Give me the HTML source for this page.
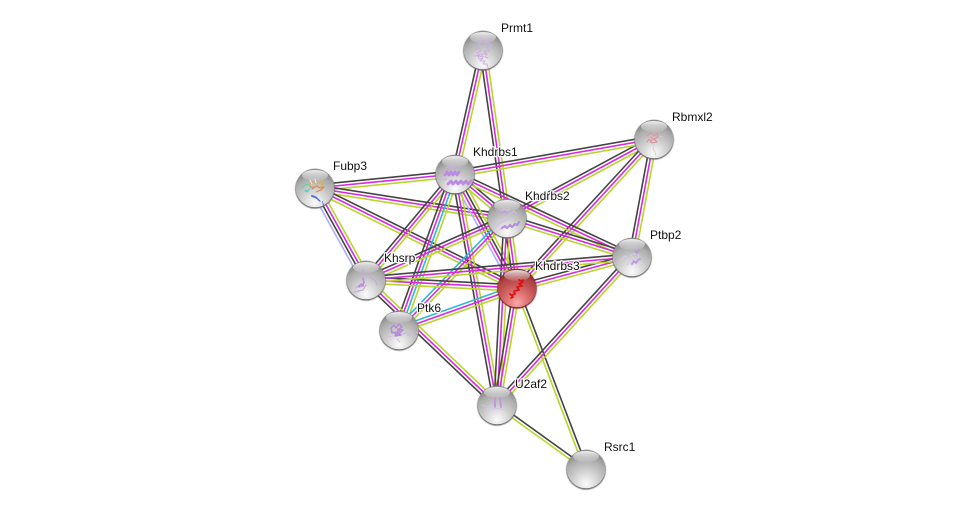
<!DOCTYPE html>
<html><head><meta charset="utf-8"><style>
html,body{margin:0;padding:0;background:#fff;width:976px;height:514px;overflow:hidden}
svg{display:block}
text{font-family:"Liberation Sans",sans-serif;font-size:12px;fill:#111;paint-order:stroke;stroke:#fff;stroke-width:2.5px;stroke-linejoin:round}
</style></head><body>
<svg xmlns="http://www.w3.org/2000/svg" width="976" height="514" viewBox="0 0 976 514">
<defs>
<radialGradient id="g" cx="50%" cy="88%" r="78%"><stop offset="0" stop-color="#fbfbfb"/><stop offset=".22" stop-color="#e6e6e6"/><stop offset=".52" stop-color="#c8c8c8"/><stop offset=".82" stop-color="#ababab"/><stop offset="1" stop-color="#8c8c8c"/></radialGradient>
<radialGradient id="r" cx="50%" cy="88%" r="78%"><stop offset="0" stop-color="#fba8a8"/><stop offset=".25" stop-color="#e88080"/><stop offset=".55" stop-color="#cc5c5c"/><stop offset=".85" stop-color="#b04242"/><stop offset="1" stop-color="#8a2c2c"/></radialGradient>
<linearGradient id="h" x1="0" y1="0" x2="0" y2="1"><stop offset="0" stop-color="#fff" stop-opacity=".85"/><stop offset="1" stop-color="#fff" stop-opacity=".08"/></linearGradient>
<filter id="b" x="-20%" y="-20%" width="140%" height="140%"><feGaussianBlur stdDeviation=".5"/></filter>
<filter id="p" x="-20%" y="-20%" width="140%" height="140%"><feGaussianBlur stdDeviation=".25"/></filter>
<g id="s"><circle cx="0" cy="0.8" r="19.8" fill="#666" filter="url(#b)"/><circle r="19.3" fill="url(#g)"/><ellipse cx="0" cy="-12.5" rx="13" ry="5.5" fill="url(#h)"/></g>
<g id="sr"><circle cx="0" cy="0.8" r="19.8" fill="#6a1e1e" filter="url(#b)"/><circle r="19.3" fill="url(#r)"/><ellipse cx="0" cy="-12.5" rx="13" ry="5.5" fill="url(#h)"/></g>
</defs>
<g id="edges"></g>
<g fill="none" stroke-linecap="round" stroke-linejoin="round">
<use href="#s" x="483" y="50"/>
<g filter="url(#p)">
<path transform="translate(483,50)" d="M-3-12l3 4 2-2 1 4 4-6-1 6 3 1-5 3 2 3-5 0 3 3-6 0 2 3-5-1 1 3 4-1-3 3 5 0-2 3 4 0 1 4M-8 0l4-2 2 3-4 2 3 2-5 1M-3-8l-2 3 3 1-3 2M1 2l3 2-2 3 3 1" stroke="#cfaee4" stroke-width="1"/>
</g>
<use href="#s" x="654" y="139"/>
<g filter="url(#p)">
<path transform="translate(654,139)" d="M-7-3l4-3 3 3 3-3 1 4-4 2 3 3-5 1-3-4-2 3M-3-2l3 3 3-3M-4 3l2-2" stroke="#e48f9f" stroke-width="1.1"/>
<path transform="translate(654,139)" d="M0 5l-1 5 2 3 1 4M5-3l4 1" stroke="#d8c8cc" stroke-width=".8"/>
</g>
<use href="#s" x="455" y="174"/>
<g filter="url(#p)">
<path transform="translate(455,174)" d="M-10 1l2-3 2 3 2-3 2 3 2-3 2 3 2-3M-7 10l3-3 2 3 3-3 2 3 3-3 2 3 3-3 2 3 3-3" stroke="#bb8ae2" stroke-width="2.8"/>
<path transform="translate(455,174)" d="M-9-6l4-2 3 3 4-4M-12 6l3-1" stroke="#cdaae8" stroke-width="1.4"/>
</g>
<use href="#s" x="315" y="188"/>
<g filter="url(#p)">
<path transform="translate(315,188)" d="M-13 0l3-3 3-1 3 3-3 4-3-1M-10 3l3 1" stroke="#60d0b8" stroke-width="1"/>
<path transform="translate(315,188)" d="M-6-3l4-3 3 2 4-1 3-3 1 3-3 3 3 1-5 1" stroke="#d8b060" stroke-width="1.2"/>
<path transform="translate(315,188)" d="M-3 1l5-3 3 2 4-1-3 3-5 2M-4-1l4 0" stroke="#d88860" stroke-width="1.1"/>
<path transform="translate(315,188)" d="M-5-8l2 4M0-9l1 4" stroke="#e6eedc" stroke-width="1"/>
<path transform="translate(315,188)" d="M-3 8l3 1 2 1 2 2 3 2 1 3" stroke="#5c74d0" stroke-width="2"/>
<path transform="translate(315,188)" d="M3 9l3 3 1 5" stroke="#e8ecfa" stroke-width="1.6"/>
</g>
<use href="#s" x="507" y="218"/>
<g filter="url(#p)">
<path transform="translate(507,218)" d="M-10-8l4 2 3-3 3 2 3-3M-11 9l4-4 4-2 3-1 3-6 4-3 3 3M-8 12l4-3 3 1" stroke="#d4bcea" stroke-width="1"/>
<path transform="translate(507,218)" d="M-5 10l3-2 2 2 3-3 2 2 3-3 2 1 2-3" stroke="#b890de" stroke-width="2.2"/>
<path transform="translate(507,218)" d="M-9-7l3 2 3-2 3 2" stroke="#bda0e0" stroke-width="1.6"/>
</g>
<use href="#s" x="632" y="257"/>
<g filter="url(#p)">
<path transform="translate(632,257)" d="M-11 3l4-4 4 3 3 5 4-3 3 2-1-9M-5 8l7-6-3-4 6-2" stroke="#dacde8" stroke-width=".9"/>
<path transform="translate(632,257)" d="M0 7l2-3 2 2 2-3 2-1M3-6l2 2 2-3" stroke="#bc96e0" stroke-width="1.7"/>
</g>
<use href="#s" x="366" y="280"/>
<g filter="url(#p)">
<path transform="translate(366,280)" d="M-10 8l3-3 2 2 2-3 1-4-2-3 2-3-1-4M2-7l3 5 4 2 2 5M-8 11l5-1 3-5M-12 12l5-1" stroke="#c6a8e0" stroke-width="1.2"/>
<path transform="translate(366,280)" d="M-7 7l2-3 2 2 1-4-1-3" stroke="#b890dc" stroke-width="1.6"/>
</g>
<use href="#sr" x="517" y="288"/>
<g filter="url(#p)">
<path transform="translate(517,288)" d="M2-8l4 2-4 2 3 2-5 1 2 3-5 1 1 3-3 1M-7 6l2 2M-6 10l2-1M4-6l2-2" stroke="#d81818" stroke-width="1.8"/>
</g>
<use href="#s" x="399" y="330"/>
<g filter="url(#p)">
<path transform="translate(399,330)" d="M-8-2l3-3 2 3 3-4 3 3-3 2 4 1-5 3 3 2-6 1 1-4-4 1zM-6 2l4 3 1-6 3 3-3 2" stroke="#b48cd8" stroke-width="1.4"/>
<path transform="translate(399,330)" d="M3 4l5-1 3 3M-11 7l4-1M-2 9l3 3" stroke="#cdb8e4" stroke-width=".9"/>
</g>
<use href="#s" x="497" y="405"/>
<g filter="url(#p)">
<path transform="translate(497,405)" d="M-2-7l0 9M3-7l1 9" stroke="#bf98de" stroke-width="2"/>
<path transform="translate(497,405)" d="M-15 0l5 2 4-2 3 2M-3 3l8 1 5 2M-5 5l3-2" stroke="#d6c4e8" stroke-width=".9"/>
</g>
<use href="#s" x="586" y="469"/>
</g>
<g>
<text x="501" y="32">Prmt1</text>
<text x="672" y="121">Rbmxl2</text>
<text x="473" y="156">Khdrbs1</text>
<text x="333" y="170">Fubp3</text>
<text x="525" y="200">Khdrbs2</text>
<text x="650" y="239">Ptbp2</text>
<text x="384" y="262">Khsrp</text>
<text x="535" y="270">Khdrbs3</text>
<text x="417" y="312">Ptk6</text>
<text x="515" y="388">U2af2</text>
<text x="604" y="451">Rsrc1</text>
</g>
</svg>
<script>
var N={P:[483,50],R:[654,139],K1:[455,174],F:[315,188],K2:[507,218],T:[632,257],H:[366,280],K3:[517,288],A:[399,330],U:[497,405],S:[586,469]};
var C={k:"#444444",m:"#dc28dc",y:"#bad42a",c:"#2ab8de",b:"#adadff"};
var E=[["K1","P","kmy"],["K2","P","kmy"],["K2","R","kmy"],["K1","R","kmy"],["K3","R","kmy"],["T","R","kmy"],
["F","K1","kmy"],["F","K2","kmy"],["F","K3","kmy"],["H","F","bkmy"],
["K1","K2","kmy"],["K3","K1","bmky"],["K1","T","kmy"],["H","K1","kmy"],["A","K1","kmcy"],["U","K1","kmy"],
["K2","T","kmy"],["H","K2","kmy"],["A","K2","cmy"],["K3","K2","kmy"],["U","K2","kmy"],
["K3","T","kmy"],["H","K3","kmy"],["A","K3","cmy"],["U","K3","kmy"],["S","K3","yk"],
["H","T","kmy"],["H","U","ymk"],["U","T","kmy"],["U","S","ky"]];
var g=document.getElementById("edges"),sp=3.1;
E.forEach(function(e){var a=N[e[0]],b=N[e[1]],dx=b[0]-a[0],dy=b[1]-a[1],l=Math.hypot(dx,dy),nx=dy/l,ny=-dx/l,n=e[2].length;
for(var i=0;i<n;i++){var o=((n-1)/2-i)*sp,L=document.createElementNS("http://www.w3.org/2000/svg","line");
L.setAttribute("x1",a[0]+nx*o);L.setAttribute("y1",a[1]+ny*o);L.setAttribute("x2",b[0]+nx*o);L.setAttribute("y2",b[1]+ny*o);
L.setAttribute("stroke",C[e[2][i]]);L.setAttribute("stroke-width","1.6");g.appendChild(L);}});
</script>
</body></html>
